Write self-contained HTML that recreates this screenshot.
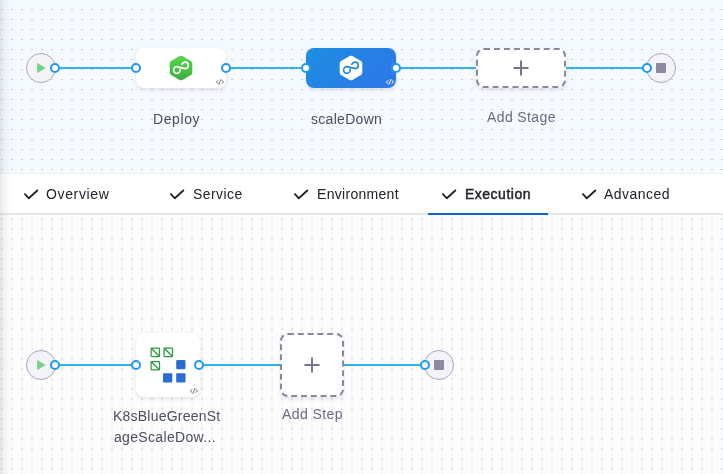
<!DOCTYPE html>
<html><head><meta charset="utf-8">
<style>
*{box-sizing:border-box;margin:0;padding:0}
html,body{width:723px;height:474px;overflow:hidden;background:#fff}
body{position:relative;font-family:"Liberation Sans",sans-serif}
.abs{position:absolute}
svg.abs{z-index:3}
#top{left:0;top:0;width:723px;height:174px;background:#f5fafe}
#bot{left:0;top:215px;width:723px;height:259px;background:#fdfdfe}
#tabs{left:0;top:174px;width:723px;height:41px;background:#fff;border-bottom:2px solid #e8e8ea}
#shadow{left:0;top:0;width:14px;height:474px;z-index:5;background:linear-gradient(90deg,rgba(60,65,75,.13) 0,rgba(60,65,75,.07) 3px,rgba(60,65,75,.025) 8px,rgba(60,65,75,0) 14px)}
.line{position:absolute;height:2px;background:#30b5ee}
.conn{position:absolute;z-index:4;width:10px;height:10px;border-radius:50%;border:2px solid #2398f0;background:#fff}
.circ{position:absolute;width:30px;height:30px;border-radius:50%;border:1px solid #a9a7bd;background:#f3f3f9}
.card{position:absolute;background:#fff;border-radius:8px;box-shadow:0 0 1px rgba(40,41,61,.04),0 2px 4px rgba(96,97,112,.16)}
.dash{position:absolute;z-index:3;background:#fff;border:2px dashed #8a889f;border-radius:8px;box-shadow:0 0 1px rgba(40,41,61,.04),0 2px 4px rgba(96,97,112,.16)}
.lbl{position:absolute;will-change:transform;font-size:14px;color:#4b4d60;white-space:nowrap;letter-spacing:.3px;line-height:17px}
.tab{position:absolute;will-change:transform;top:174px;height:39px;font-size:14px;color:#22222a;line-height:39px;white-space:nowrap;letter-spacing:.3px}
</style></head><body>
<div id="top" class="abs"><svg width="723" height="174" style="display:block"><defs><pattern id="pt" width="10" height="10" patternUnits="userSpaceOnUse"><rect x="1" y="9" width="2" height="1" fill="#cbcdd2"/></pattern></defs><rect width="723" height="174" fill="url(#pt)"/><rect x="0" y="173" width="723" height="1" fill="#f1f6fa"/></svg></div>
<div id="tabs" class="abs"></div>
<div id="bot" class="abs"><svg width="723" height="259" style="display:block"><defs><pattern id="pb" width="10" height="10" patternUnits="userSpaceOnUse"><rect x="1" y="0" width="2" height="10" fill="#f6f9fc"/><rect x="1" y="3" width="2" height="2" fill="#e5e6ea"/></pattern></defs><rect width="723" height="259" fill="url(#pb)"/></svg></div>
<div id="shadow" class="abs"></div>
<div class="line" style="left:55px;top:67px;width:81px"></div>
<div class="line" style="left:226px;top:67px;width:80px"></div>
<div class="line" style="left:396px;top:67px;width:80px"></div>
<div class="line" style="left:566px;top:67px;width:81px"></div>
<div class="circ" style="left:26px;top:53px"></div>
<svg class="abs" style="left:36px;top:62px" width="11" height="12" viewBox="0 0 11 12"><path d="M1.5 1.4 L9.2 6 L1.5 10.6 Z" fill="#73d37c" stroke="#73d37c" stroke-width="0.6" stroke-linejoin="round"/></svg>
<div class="card" style="left:136px;top:48px;width:90px;height:40px"></div>
<div class="card" style="left:306px;top:48px;width:90px;height:40px;background:linear-gradient(135deg,#1d8ee0,#2f76ea)"></div>
<div class="dash" style="left:476px;top:48px;width:90px;height:40px"></div>
<svg class="abs" style="left:513px;top:60px" width="16" height="16" viewBox="0 0 16 16"><path d="M0.5 8 H15.5 M8 0.5 V15.5" stroke="#76748f" stroke-width="2"/></svg>
<div class="circ" style="left:646px;top:53px"></div>
<div class="abs" style="left:656px;top:63px;width:10px;height:10px;background:#8c8aa2;border-radius:1px"></div>
<div class="conn" style="left:50px;top:63px"></div>
<div class="conn" style="left:131px;top:63px"></div>
<div class="conn" style="left:221px;top:63px"></div>
<div class="conn" style="left:301px;top:63px;border-color:#2398f0"></div>
<div class="conn" style="left:391px;top:63px;border-color:#2398f0"></div>
<div class="conn" style="left:642px;top:63px"></div>
<svg class="abs" style="left:167px;top:54px" width="28" height="28" viewBox="0 0 28 28"><defs><linearGradient id="gg" x1="0" y1="0" x2="0" y2="1"><stop offset="0" stop-color="#56d84c"/><stop offset="1" stop-color="#3cae3c"/></linearGradient></defs><path d="M12.61 2.10 Q14.00 1.30 15.39 2.10 L23.91 7.00 Q25.30 7.80 25.30 9.40 L25.30 18.60 Q25.30 20.20 23.91 21.00 L15.39 25.90 Q14.00 26.70 12.61 25.90 L4.09 21.00 Q2.70 20.20 2.70 18.60 L2.70 9.40 Q2.70 7.80 4.09 7.00 Z" fill="url(#gg)"/><path d="M14.9 10.3 A3.3 3.3 0 1 1 18.2 14.7 L9.9 12.7 A3.3 3.3 0 1 0 13.1 15.3" fill="none" stroke="#fff" stroke-width="1.7" stroke-linecap="round"/></svg>
<svg class="abs" style="left:337px;top:54px" width="28" height="28" viewBox="0 0 28 28"><path d="M12.61 2.10 Q14.00 1.30 15.39 2.10 L23.91 7.00 Q25.30 7.80 25.30 9.40 L25.30 18.60 Q25.30 20.20 23.91 21.00 L15.39 25.90 Q14.00 26.70 12.61 25.90 L4.09 21.00 Q2.70 20.20 2.70 18.60 L2.70 9.40 Q2.70 7.80 4.09 7.00 Z" fill="#fff"/><path d="M14.9 10.3 A3.3 3.3 0 1 1 18.2 14.7 L9.9 12.7 A3.3 3.3 0 1 0 13.1 15.3" fill="none" stroke="#2386e2" stroke-width="1.7" stroke-linecap="round"/></svg>
<svg class="abs" style="left:215px;top:78px" width="10" height="8" viewBox="0 0 10 8"><path d="M3 2.5 L1.3 3.95 L3 5.4 M6.9 2.5 L8.6 3.95 L6.9 5.4 M5.9 1.4 L3.9 6.5" fill="none" stroke="#6b6a80" stroke-width="0.95" stroke-linecap="round" stroke-linejoin="round"/></svg>
<svg class="abs" style="left:385px;top:78px" width="10" height="8" viewBox="0 0 10 8"><path d="M3 2.5 L1.3 3.95 L3 5.4 M6.9 2.5 L8.6 3.95 L6.9 5.4 M5.9 1.4 L3.9 6.5" fill="none" stroke="#fff" stroke-width="0.95" stroke-linecap="round" stroke-linejoin="round"/></svg>
<div class="lbl" style="left:153px;top:111px;letter-spacing:.6px">Deploy</div>
<div class="lbl" style="left:311px;top:111px;letter-spacing:.3px">scaleDown</div>
<div class="lbl" style="left:487px;top:109px;letter-spacing:.38px;color:#6b6a85">Add Stage</div>
<div class="tab" style="left:46px;top:175px;letter-spacing:.64px">Overview</div>
<div class="tab" style="left:193px;top:175px;letter-spacing:.43px">Service</div>
<div class="tab" style="left:317px;top:175px">Environment</div>
<div class="tab" style="left:465px;top:175px;-webkit-text-stroke:.45px #22222a;letter-spacing:.5px">Execution</div>
<div class="tab" style="left:604px;top:175px;letter-spacing:.47px">Advanced</div>
<svg class="abs" style="left:24px;top:188px" width="16" height="13" viewBox="0 0 16 13"><path d="M1 6.2 L4.8 10.3 L13.3 2.5" fill="none" stroke="#22222a" stroke-width="1.85" stroke-linecap="round" stroke-linejoin="round"/></svg>
<svg class="abs" style="left:170px;top:188px" width="16" height="13" viewBox="0 0 16 13"><path d="M1 6.2 L4.8 10.3 L13.3 2.5" fill="none" stroke="#22222a" stroke-width="1.85" stroke-linecap="round" stroke-linejoin="round"/></svg>
<svg class="abs" style="left:294px;top:188px" width="16" height="13" viewBox="0 0 16 13"><path d="M1 6.2 L4.8 10.3 L13.3 2.5" fill="none" stroke="#22222a" stroke-width="1.85" stroke-linecap="round" stroke-linejoin="round"/></svg>
<svg class="abs" style="left:442px;top:188px" width="16" height="13" viewBox="0 0 16 13"><path d="M1 6.2 L4.8 10.3 L13.3 2.5" fill="none" stroke="#22222a" stroke-width="1.85" stroke-linecap="round" stroke-linejoin="round"/></svg>
<svg class="abs" style="left:582px;top:188px" width="16" height="13" viewBox="0 0 16 13"><path d="M1 6.2 L4.8 10.3 L13.3 2.5" fill="none" stroke="#22222a" stroke-width="1.85" stroke-linecap="round" stroke-linejoin="round"/></svg>
<div class="abs" style="left:428px;top:213px;width:120px;height:2px;z-index:2;background:#0c66d2"></div>
<div class="line" style="left:55px;top:364px;width:81px"></div>
<div class="line" style="left:200px;top:364px;width:80px"></div>
<div class="line" style="left:344px;top:364px;width:81px"></div>
<div class="circ" style="left:26px;top:350px"></div>
<svg class="abs" style="left:36px;top:359px" width="11" height="12" viewBox="0 0 11 12"><path d="M1.5 1.4 L9.2 6 L1.5 10.6 Z" fill="#73d37c" stroke="#73d37c" stroke-width="0.6" stroke-linejoin="round"/></svg>
<div class="card" style="left:136px;top:333px;width:64px;height:64px"></div>
<div class="dash" style="left:280px;top:333px;width:64px;height:64px"></div>
<svg class="abs" style="left:304px;top:357px" width="16" height="16" viewBox="0 0 16 16"><path d="M0.5 8 H15.5 M8 0.5 V15.5" stroke="#76748f" stroke-width="2"/></svg>
<div class="circ" style="left:424px;top:350px"></div>
<div class="abs" style="left:434px;top:360px;width:10px;height:10px;background:#8c8aa2;border-radius:1px"></div>
<div class="conn" style="left:50px;top:360px"></div>
<div class="conn" style="left:131px;top:360px"></div>
<div class="conn" style="left:194px;top:360px"></div>
<div class="conn" style="left:420px;top:360px"></div>
<svg class="abs" style="left:147px;top:344px" width="42" height="42" viewBox="0 0 42 42"><rect x="4.1" y="4.1" width="8.4" height="8.4" rx="0.7" fill="none" stroke="#2b9a3b" stroke-width="1.25"/><path d="M4.3 4.3 L12.3 12.3" stroke="#2b9a3b" stroke-width="1.3"/><rect x="17.1" y="4.1" width="8.4" height="8.4" rx="0.7" fill="none" stroke="#2b9a3b" stroke-width="1.25"/><path d="M17.3 4.3 L25.3 12.3" stroke="#2b9a3b" stroke-width="1.3"/><rect x="4.1" y="17.5" width="8.4" height="8.4" rx="0.7" fill="none" stroke="#2b9a3b" stroke-width="1.25"/><path d="M4.3 17.7 L12.3 25.7" stroke="#2b9a3b" stroke-width="1.3"/><rect x="29.2" y="16" width="9.3" height="9.3" rx="1.1" fill="#286cd4"/><rect x="16" y="29.2" width="9.3" height="9.3" rx="1.1" fill="#286cd4"/><rect x="29.2" y="29.2" width="9.3" height="9.3" rx="1.1" fill="#286cd4"/></svg>
<svg class="abs" style="left:189px;top:387px" width="10" height="8" viewBox="0 0 10 8"><path d="M3 2.5 L1.3 3.95 L3 5.4 M6.9 2.5 L8.6 3.95 L6.9 5.4 M5.9 1.4 L3.9 6.5" fill="none" stroke="#6b6a80" stroke-width="0.95" stroke-linecap="round" stroke-linejoin="round"/></svg>
<div class="lbl" style="left:113px;top:408px;letter-spacing:.22px">K8sBlueGreenSt</div>
<div class="lbl" style="left:114px;top:429px;letter-spacing:.33px">ageScaleDow...</div>
<div class="lbl" style="left:281.5px;top:406px;letter-spacing:.42px;color:#6b6a85">Add Step</div>
</body></html>
